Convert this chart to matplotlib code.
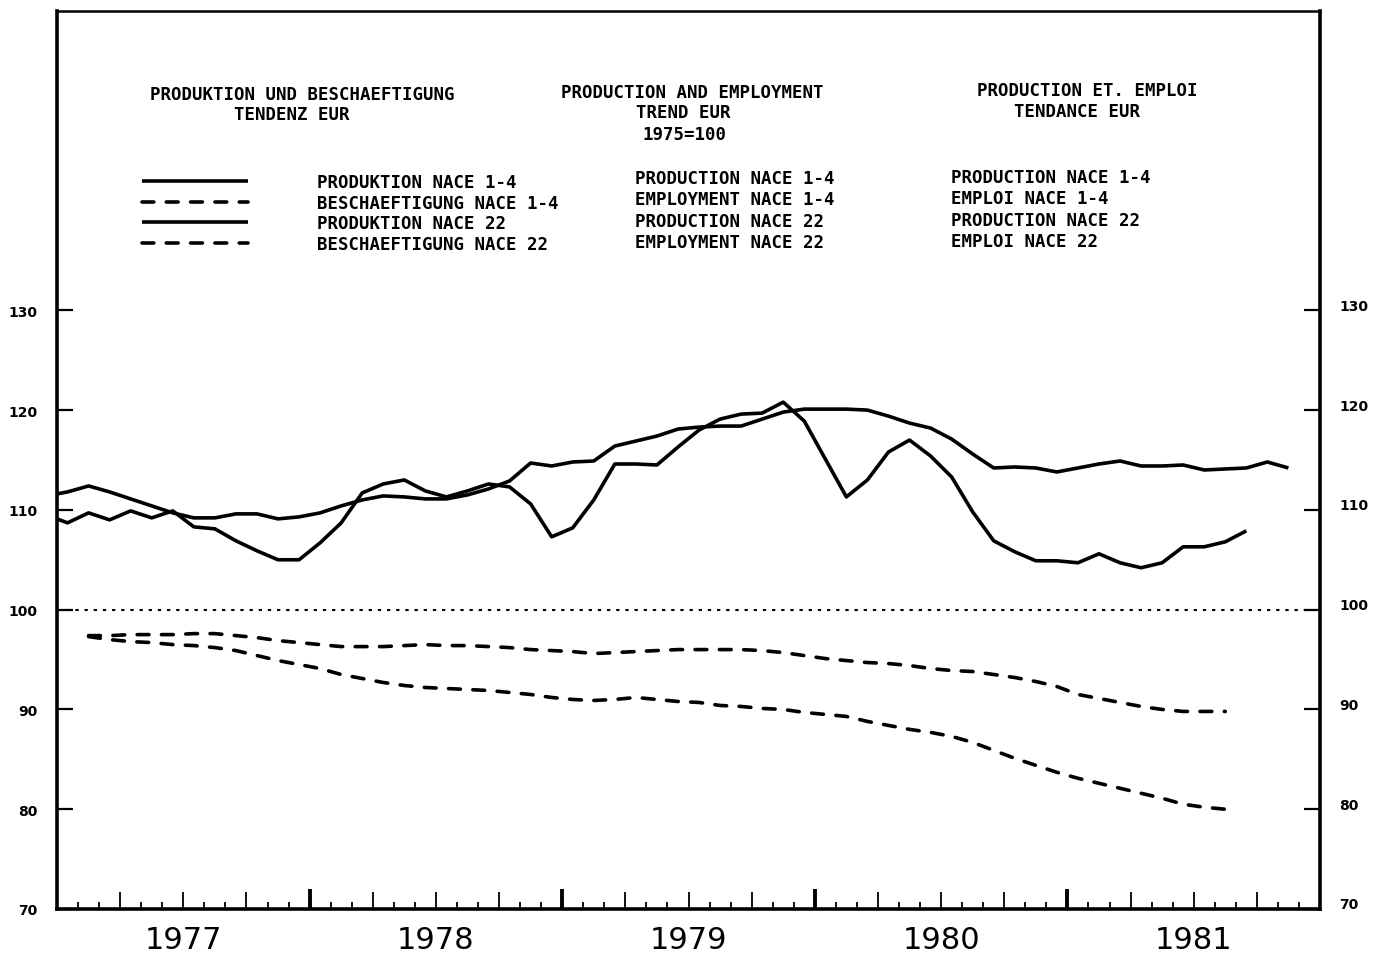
import numpy as np
import matplotlib
matplotlib.use("Agg")
import matplotlib.pyplot as plt
import matplotlib.transforms as mtransforms

# months are counted from Jan 1977 (0 = Jan 1977), each value sits mid-month
years = [1977, 1978, 1979, 1980, 1981]

prod_14_start = -1
prod_14 = [111.4, 111.8, 112.4, 111.8, 111.1, 110.4, 109.7, 109.2, 109.2, 109.6,
           109.6, 109.1, 109.3, 109.7, 110.4, 111.0, 111.4, 111.3, 111.1, 111.1,
           111.5, 112.1, 112.9, 114.7, 114.4, 114.8, 114.9, 116.4, 116.9, 117.4,
           118.1, 118.3, 118.4, 118.4, 119.1, 119.8, 120.1, 120.1, 120.1, 120.0,
           119.4, 118.7, 118.2, 117.1, 115.6, 114.2, 114.3, 114.2, 113.8, 114.2,
           114.6, 114.9, 114.4, 114.4, 114.5, 114.0, 114.1, 114.2, 114.8, 114.2]

prod_22_start = -1
prod_22 = [109.5, 108.7, 109.7, 109.0, 109.9, 109.2, 109.9, 108.3, 108.1, 106.9,
           105.9, 105.0, 105.0, 106.7, 108.7, 111.7, 112.6, 113.0, 111.9, 111.3,
           111.9, 112.6, 112.3, 110.6, 107.3, 108.2, 111.0, 114.6, 114.6, 114.5,
           116.3, 118.0, 119.1, 119.6, 119.7, 120.8, 118.9, 115.1, 111.3, 113.0,
           115.8, 117.0, 115.4, 113.3, 109.8, 106.9, 105.8, 104.9, 104.9, 104.7,
           105.6, 104.7, 104.2, 104.7, 106.3, 106.3, 106.8, 107.9]

emp_14_start = 1
emp_14 = [97.4, 97.4, 97.5, 97.5, 97.5, 97.6, 97.6, 97.4, 97.2, 96.9,
          96.7, 96.5, 96.3, 96.3, 96.3, 96.4, 96.5, 96.4, 96.4, 96.3,
          96.2, 96.0, 95.9, 95.8, 95.6, 95.7, 95.8, 95.9, 96.0, 96.0,
          96.0, 96.0, 95.9, 95.7, 95.4, 95.1, 94.9, 94.7, 94.6, 94.4,
          94.1, 93.9, 93.8, 93.5, 93.2, 92.8, 92.3, 91.5, 91.1, 90.7,
          90.3, 90.0, 89.8, 89.8, 89.8]

emp_22_start = 1
emp_22 = [97.3, 97.0, 96.8, 96.7, 96.5, 96.4, 96.2, 95.9, 95.4, 94.9,
          94.5, 94.1, 93.5, 93.1, 92.7, 92.4, 92.2, 92.1, 92.0, 91.9,
          91.7, 91.5, 91.2, 91.0, 90.9, 91.0, 91.2, 91.0, 90.8, 90.7,
          90.4, 90.3, 90.1, 90.0, 89.7, 89.5, 89.3, 88.8, 88.4, 88.0,
          87.7, 87.3, 86.7, 85.9, 85.1, 84.4, 83.7, 83.1, 82.6, 82.1,
          81.6, 81.1, 80.5, 80.2, 80.0]

y_ticks = [70, 80, 90, 100, 110, 120, 130]
base_value = 100

title_de = ["PRODUKTION UND BESCHAEFTIGUNG", "TENDENZ EUR"]
title_en = ["PRODUCTION AND EMPLOYMENT", "TREND EUR", "1975=100"]
title_fr = ["PRODUCTION ET. EMPLOI", "TENDANCE EUR"]

labels_de = ["PRODUKTION NACE 1-4", "BESCHAEFTIGUNG NACE 1-4",
             "PRODUKTION NACE 22", "BESCHAEFTIGUNG NACE 22"]
labels_en = ["PRODUCTION NACE 1-4", "EMPLOYMENT NACE 1-4",
             "PRODUCTION NACE 22", "EMPLOYMENT NACE 22"]
labels_fr = ["PRODUCTION NACE 1-4", "EMPLOI NACE 1-4",
             "PRODUCTION NACE 22", "EMPLOI NACE 22"]

plt.rcParams['lines.scale_dashes'] = False

W, H = 1385, 954
fig = plt.figure(figsize=(W / 100, H / 100), dpi=100)
ax = fig.add_axes([57 / W, 1 - 910 / H, (1320 - 57) / W, (910 - 12) / H])


def mid_month(start, vals):
    return np.arange(start, start + len(vals)) + 0.5


solid = dict(color='black', lw=2.6, solid_joinstyle='round', solid_capstyle='butt')
dashed = dict(color='black', lw=2.6, dashes=(8.5, 9), dash_capstyle='round',
              dash_joinstyle='round')

l1, = ax.plot(mid_month(prod_14_start, prod_14), prod_14, **solid)
l2, = ax.plot(mid_month(emp_14_start, emp_14), emp_14, **dashed)
l3, = ax.plot(mid_month(prod_22_start, prod_22), prod_22, **solid)
l4, = ax.plot(mid_month(emp_22_start, emp_22), emp_22, **dashed)

ax.axhline(base_value, color='black', lw=1.5, dashes=(2.4, 4.2))

ax.set_xlim(0, 12 * len(years))
ax.set_ylim(70, 160)

for side in ['left', 'right', 'bottom']:
    ax.spines[side].set_linewidth(2.6)
ax.spines['top'].set_linewidth(1.8)

# y axis: labels on both sides
ax.set_yticks(y_ticks)
ax.set_yticklabels([str(v) for v in y_ticks])
ax.tick_params(axis='y', which='major', direction='in', length=11.5, width=1.6,
               left=True, right=True, labelleft=True, labelright=True,
               labelsize=10, pad=14)
offset = mtransforms.ScaledTranslation(0, 6 / 100, fig.dpi_scale_trans)
for t in ax.yaxis.get_major_ticks():
    t.label1.set_fontweight('bold')
    t.label2.set_fontweight('bold')
    t.label2.set_transform(t.label2.get_transform() + offset)

# x axis: years bold, quarters tall, months short
n_months = 12 * len(years)
ax.set_xticks([12 * i for i in range(1, len(years))])
ax.set_xticks([m for m in range(3, n_months, 3) if m % 12], minor=True)
ax.tick_params(axis='x', which='major', direction='in', length=14.5, width=2.8,
               labelbottom=False)
ax.tick_params(axis='x', which='minor', direction='in', length=12, width=1.3)

sec = ax.secondary_xaxis('bottom')
sec.set_xticks([m for m in range(1, n_months) if m % 3])
sec.tick_params(axis='x', direction='in', length=5, width=1.3, labelbottom=False)
sec.spines['bottom'].set_visible(False)

for i, yr in enumerate(years):
    ax.text(12 * i + 6, -0.034, str(yr), transform=ax.get_xaxis_transform(),
            ha='center', va='center', fontsize=22, family='DejaVu Sans')

# header and legend
font = dict(family='DejaVu Sans Mono', weight='bold', size=12.5)


def ftext(x, y, s, ha='center'):
    fig.text(x / W, 1 - y / H, s, ha=ha, va='center', fontdict=font)


ftext(302, 95, title_de[0])
ftext(292, 115, title_de[1])
ftext(692, 93, title_en[0])
ftext(683, 113, title_en[1])
ftext(684, 135, title_en[2])
ftext(1087, 91, title_fr[0])
ftext(1077, 112, title_fr[1])

for i, s in enumerate(labels_en):
    ftext(635, 179 + 21.3 * i, s, ha='left')
for i, s in enumerate(labels_fr):
    ftext(951, 178 + 21.3 * i, s, ha='left')

ax.legend([l1, l2, l3, l4], labels_de, loc='upper left',
          bbox_to_anchor=(142 / W, 1 - 174 / H), bbox_transform=fig.transFigure,
          frameon=False, prop=font, handlelength=6.1, handletextpad=4.0,
          labelspacing=0.15, borderpad=0, borderaxespad=0)

fig.savefig('out.png', dpi=100)
